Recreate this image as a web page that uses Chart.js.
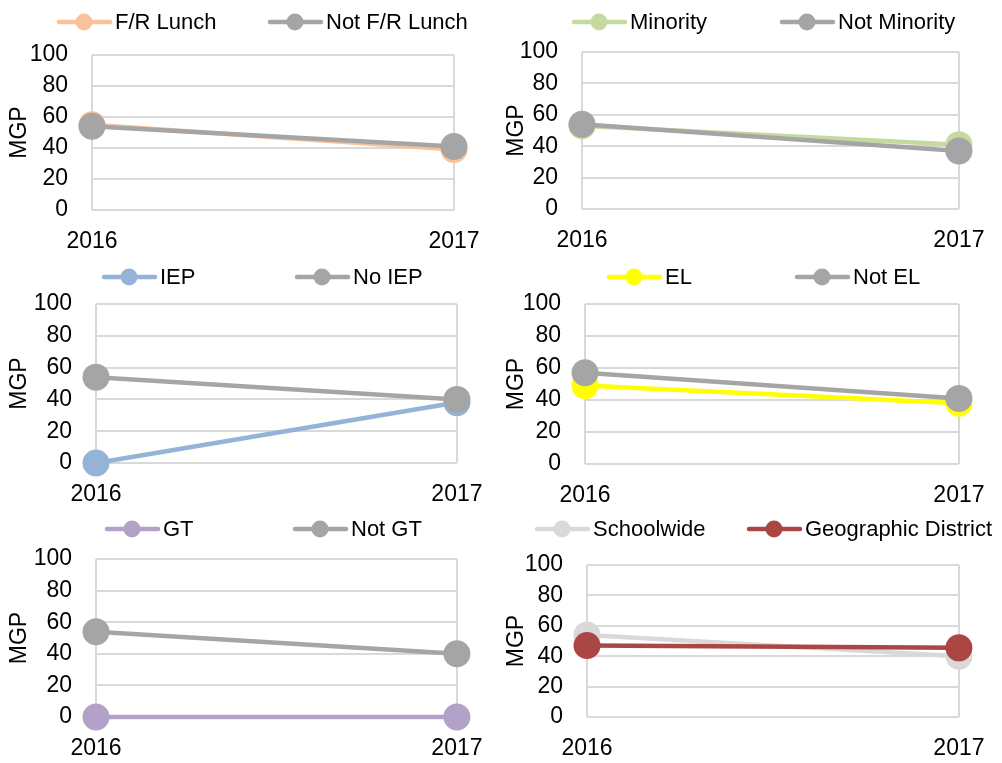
<!DOCTYPE html>
<html>
<head>
<meta charset="utf-8">
<title>MGP by student group</title>
<script src="https://cdn.jsdelivr.net/npm/chart.js@4.4.0/dist/chart.umd.min.js"></script>
<style>
    body { margin: 0; background: #fff; width: 1002px; height: 763px; position: relative; overflow: hidden; }
    canvas { position: absolute; }
</style>
</head>
<body>
<canvas id="c1"></canvas>
<canvas id="c2"></canvas>
<canvas id="c3"></canvas>
<canvas id="c4"></canvas>
<canvas id="c5"></canvas>
<canvas id="c6"></canvas>
<script>
/* ---------------- DATA ---------------- */
const years = ['2016', '2017'];
const yTicks = [0, 20, 40, 60, 80, 100];

const frLunch = [55, 39];
const notFrLunch = [54, 41];
const minority = [53, 41];
const notMinority = [54, 37];
const iep = [0, 38];
const noIep = [54, 40];
const el = [49, 38];
const notEl = [57, 41];
const gt = [0, 0];
const notGt = [54, 40];
const schoolwide = [54, 40];
const district = [47, 45.5];

const seriesNames = [
    ['F/R Lunch', 'Not F/R Lunch'],
    ['Minority', 'Not Minority'],
    ['IEP', 'No IEP'],
    ['EL', 'Not EL'],
    ['GT', 'Not GT'],
    ['Schoolwide', 'Geographic District']
];

/* ---------------- STYLE ---------------- */
const FONT = "'Liberation Sans Narrow', 'Arial Narrow', 'Liberation Sans', Arial, sans-serif";
const GREY = '#A5A5A5';
const GRID = '#D9D9D9';

Chart.defaults.font.family = FONT;
Chart.defaults.font.size = 23;
Chart.defaults.color = '#000';

// legend drawn as Excel does it: line with a dot, fixed slot per item
const slotLegend = {
    id: 'slotLegend',
    afterDraw(chart, args, opts) {
        const ctx = chart.ctx;
        ctx.save();
        chart.data.datasets.forEach((ds, i) => {
            const x = opts.x[i];
            const y = opts.y;
            ctx.strokeStyle = ds.borderColor;
            ctx.lineWidth = 4.5;
            ctx.lineCap = 'round';
            ctx.beginPath();
            ctx.moveTo(x + 2, y);
            ctx.lineTo(x + 53, y);
            ctx.stroke();
            ctx.fillStyle = ds.borderColor;
            ctx.beginPath();
            ctx.arc(x + 27, y, 8.5, 0, Math.PI * 2);
            ctx.fill();
            ctx.fillStyle = '#000';
            ctx.font = '22px ' + FONT;
            ctx.textAlign = 'left';
            ctx.textBaseline = 'middle';
            ctx.fillText(ds.label, x + 58, y + 1);
        });
        ctx.restore();
    }
};

// box = canvas [left, top, width, height]; plot = [L, R, T, B] in page pixels
const panels = [
    { id: 'c1', box: [0, 0, 500, 258], plot: [92, 454, 55, 210], titlePad: 6, legY: 22, legX: [57, 268],
      names: seriesNames[0], data: [frLunch, notFrLunch], colors: ['#F8C39B', GREY] },
    { id: 'c2', box: [500, 0, 502, 258], plot: [582, 962, 52, 209], titlePad: 3, legY: 22, legX: [572, 780],
      names: seriesNames[1], data: [minority, notMinority], colors: ['#C4DA9F', GREY] },
    { id: 'c3', box: [0, 258, 500, 252], plot: [96, 457, 304, 463], titlePad: 6, legY: 277, legX: [102, 295],
      names: seriesNames[2], data: [iep, noIep], colors: ['#95B3D7', GREY] },
    { id: 'c4', box: [500, 258, 502, 252], plot: [585, 960, 304, 464], titlePad: 3, legY: 277, legX: [607, 795],
      names: seriesNames[3], data: [el, notEl], colors: ['#FFFF00', GREY] },
    { id: 'c5', box: [0, 510, 500, 253], plot: [96, 460, 559, 717], titlePad: 6, legY: 529, legX: [105, 293],
      names: seriesNames[4], data: [gt, notGt], colors: ['#B3A2C7', GREY] },
    { id: 'c6', box: [500, 510, 502, 253], plot: [587, 960, 565, 717], titlePad: 3, legY: 529, legX: [535, 747],
      names: seriesNames[5], data: [schoolwide, district], colors: ['#D9D9D9', '#AA4643'] }
];

/* ---------------- CHARTS ---------------- */
panels.forEach(p => {
    const [left, top, width, height] = p.box;
    const [L, R, T, B] = p.plot;
    const canvas = document.getElementById(p.id);
    canvas.width = width;
    canvas.height = height;
    canvas.style.left = left + 'px';
    canvas.style.top = top + 'px';

    new Chart(canvas, {
        type: 'line',
        data: {
            labels: years,
            datasets: p.data.map((values, i) => ({
                label: p.names[i],
                data: values,
                borderColor: p.colors[i],
                backgroundColor: p.colors[i],
                pointBackgroundColor: p.colors[i],
                pointBorderColor: p.colors[i],
                borderWidth: 4.5,
                pointRadius: 13.5,
                pointBorderWidth: 0,
                tension: 0,
                clip: false,
                order: 1 - i
            }))
        },
        options: {
            responsive: false,
            devicePixelRatio: 1,
            animation: false,
            layout: {
                padding: { top: T - top, right: left + width - R, left: 0, bottom: 0 }
            },
            plugins: {
                legend: { display: false },
                tooltip: { enabled: false },
                slotLegend: { y: p.legY - top, x: p.legX.map(v => v - left) }
            },
            scales: {
                x: {
                    offset: false,
                    grid: { color: GRID, lineWidth: 2, drawTicks: false },
                    border: { display: false },
                    ticks: { padding: 17.5, maxRotation: 0, autoSkip: false },
                    afterFit: s => { s.height = top + height - B; }
                },
                y: {
                    min: 0,
                    max: 100,
                    afterBuildTicks: s => { s.ticks = yTicks.map(v => ({ value: v })); },
                    grid: { color: GRID, lineWidth: 2, drawTicks: false },
                    border: { display: false },
                    ticks: { padding: 24, autoSkip: false },
                    title: { display: true, text: 'MGP', padding: { top: p.titlePad, bottom: 0 } },
                    afterFit: s => { s.width = L - left; }
                }
            }
        },
        plugins: [slotLegend]
    });
});
</script>
</body>
</html>
